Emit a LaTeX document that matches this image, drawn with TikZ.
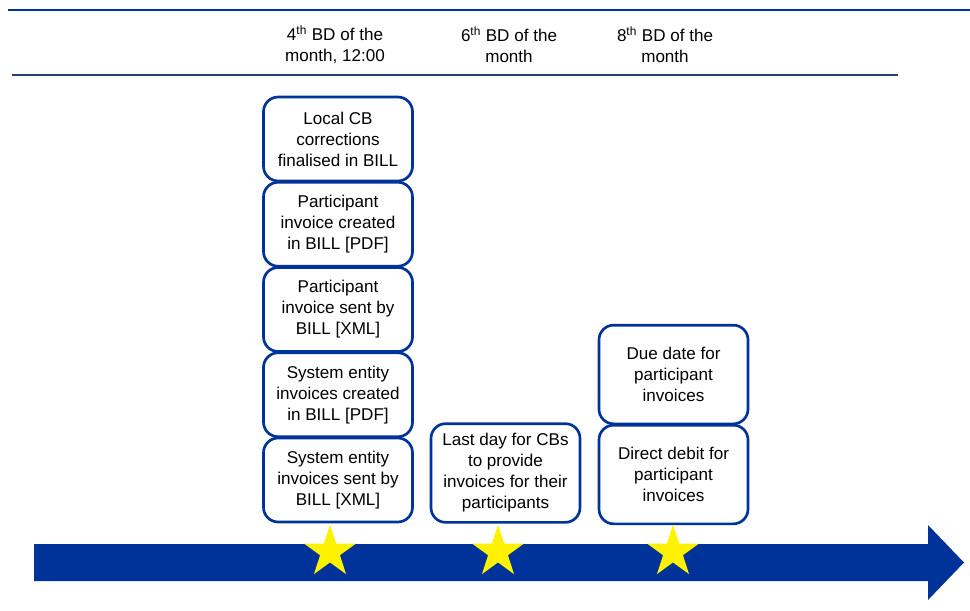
\documentclass[tikz,border=0pt]{standalone}
\usepackage{fontspec}
\setmainfont{Liberation Sans}
\usetikzlibrary{shapes.geometric}

\definecolor{ecbblue}{RGB}{0,51,153}
\definecolor{rulenavy}{RGB}{38,62,122}
\newcommand{\lblfont}{\fontsize{12.8}{15.75}\selectfont}

\tikzset{
	stepbox/.style={draw=ecbblue, line width=2pt, rounded corners=11pt, fill=white,
		minimum width=111.75pt, minimum height=63pt, inner sep=0pt, align=center, font=\lblfont},
	tallbox/.style={stepbox, minimum height=74pt},
	hdr/.style={align=center, inner sep=0.75pt, font=\lblfont},
	daystar/.style={star, star points=5, star point ratio=2.618, fill=yellow, draw=none,
		minimum size=41pt, inner sep=0pt}
}

\begin{document}
\begin{tikzpicture}[x=0.75pt,y=0.75pt,yscale=-1,xscale=1]
	\path[use as bounding box] (0,0) rectangle (970,610);
	
	%Straight Lines [top rule]
	\draw [color=ecbblue, line width=2pt] (8,10) -- (970,10) ;
	%Straight Lines [header rule]
	\draw [color=rulenavy, line width=1.6pt] (12,75) -- (898,75) ;
	
	%Shape: Timeline arrow
	\fill [ecbblue] (34,544) -- (928,544) -- (928,525) -- (964,562.5) -- (928,600) -- (928,581) -- (34,581) -- cycle ;
	
	% Text Node
	\draw (335,44.5) node [hdr] (hdrA) {4\textsuperscript{th} BD of the\\month, 12:00};
	% Text Node
	\draw (509,44.5) node [hdr] (hdrB) {6\textsuperscript{th} BD of the\\month};
	% Text Node
	\draw (665,44.5) node [hdr] (hdrC) {8\textsuperscript{th} BD of the\\month};
	
	% Boxes, 4th BD
	\draw (338,139) node [stepbox] (corr) {Local CB\\corrections\\finalised in BILL};
	\draw (338,224.25) node [stepbox] (partpdf) {Participant\\invoice created\\in BILL [PDF]};
	\draw (338,309.5) node [stepbox] (partxml) {Participant\\invoice sent by\\BILL [XML]};
	\draw (338,394.75) node [stepbox] (syspdf) {System entity\\invoices created\\in BILL [PDF]};
	\draw (338,480) node [stepbox] (sysxml) {System entity\\invoices sent by\\BILL [XML]};
	
	% Box, 6th BD
	\draw (505.5,473) node [tallbox] (lastday) {Last day for CBs\\to provide\\invoices for their\\participants};
	
	% Boxes, 8th BD
	\draw (673.5,374.5) node [tallbox] (duedate) {Due date for\\participant\\invoices};
	\draw (673.5,474.5) node [tallbox] (debit) {Direct debit for\\participant\\invoices};
	
	% Stars
	\draw (330,552) node [daystar] (starA) {};
	\draw (498,552) node [daystar] (starB) {};
	\draw (673,552) node [daystar] (starC) {};
	
\end{tikzpicture}
\end{document}
